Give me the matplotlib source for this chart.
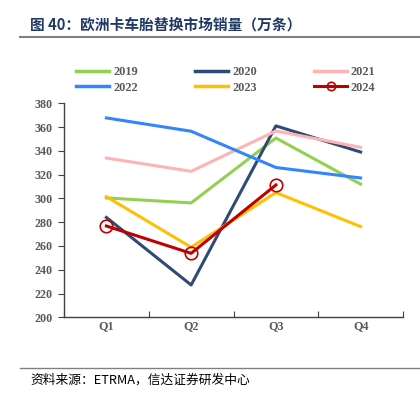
import matplotlib
matplotlib.use("Agg")
import matplotlib.pyplot as plt
from matplotlib.lines import Line2D

quarters = ["Q1", "Q2", "Q3", "Q4"]
v2019 = [300.4, 296.2, 350.8, 312.0]
v2020 = [284.0, 227.2, 361.0, 339.0]
v2021 = [334.0, 322.8, 356.7, 343.0]
v2022 = [367.7, 356.5, 326.0, 317.2]
v2023 = [301.5, 258.9, 304.9, 276.3]
v2024 = [276.8, 253.8, 311.3]
yticks = [200, 220, 240, 260, 280, 300, 320, 340, 360, 380]

title = "图 40：欧洲卡车胎替换市场销量（万条）"
source = "资料来源：ETRMA，信达证券研发中心"

W, H = 420, 397
fig = plt.figure(figsize=(W / 100, H / 100), dpi=100)
ax = fig.add_axes([64 / W, 1 - 317.3 / H, (403 - 64) / W, (317.3 - 103.3) / H])

tick_color = "#595959"
serif = ["Liberation Serif", "DejaVu Serif"]

series = [
    ("2019", v2019, "#92D050", None),
    ("2020", v2020, "#2F4A78", None),
    ("2021", v2021, "#FFB3B3", None),
    ("2022", v2022, "#3385FF", None),
    ("2023", v2023, "#FFC000", None),
    ("2024", v2024, "#C00000", "o"),
]
x = list(range(4))
handles = {}
for name, vals, col, mk in series:
    xs = x[:len(vals)]
    if mk:
        ax.plot(xs, vals, color=col, lw=2.2, marker="o", ms=9, mfc="none",
                mec=col, mew=1.2, zorder=5)
        h = Line2D([], [], color=col, lw=2.2, marker="o", ms=6, mfc="none", mec=col, mew=1.2)
    else:
        ax.plot(xs, vals, color=col, lw=2.2)
        h = Line2D([], [], color=col, lw=2.5)
    handles[name] = h

ax.set_xlim(-0.5, 3.5)
ax.set_ylim(200, 380)
ax.set_yticks(yticks)
ax.set_xticks([-0.5, 0.5, 1.5, 2.5, 3.5])
ax.set_xticklabels([])
ax.set_xticks(x, minor=True)
ax.set_xticklabels(quarters, minor=True)
ax.tick_params(axis="x", which="minor", length=0, pad=2)
ax.tick_params(axis="x", which="major", length=4, direction="in", color="#404040")
ax.tick_params(axis="y", length=4, direction="out", color="#404040", pad=4)
for lab in ax.get_yticklabels() + ax.get_xticklabels(minor=True):
    lab.set_fontfamily(serif)
    lab.set_fontweight("bold")
    lab.set_fontsize(8.7)
    lab.set_color(tick_color)
for s in ["top", "right"]:
    ax.spines[s].set_visible(False)
for s in ["left", "bottom"]:
    ax.spines[s].set_color("#404040")
    ax.spines[s].set_linewidth(1.0)

order = ["2019", "2022", "2020", "2023", "2021", "2024"]
fig.legend([handles[k] for k in order], order, ncol=3, loc="center",
           bbox_to_anchor=(226 / W, 1 - 80 / H), frameon=False,
           prop={"family": serif, "weight": "bold", "size": 8.8},
           handlelength=2.7, handletextpad=0.3, columnspacing=4.7,
           labelspacing=0.25, labelcolor=tick_color)

fig.text(30 / W, 1 - 25 / H, title, fontsize=10.6, fontweight="bold",
         color="#1F3864", family=["Noto Sans CJK SC", "DejaVu Sans"], va="center")
fig.add_artist(Line2D([20 / W, 1.0], [1 - 37 / H, 1 - 37 / H], color="#808080", lw=1.5))
fig.add_artist(Line2D([20 / W, 1.0], [1 - 368 / H, 1 - 368 / H], color="#808080", lw=1.0))
fig.text(30 / W, 1 - 380 / H, source, fontsize=9.2, style="italic", color="#000000",
         family=["Noto Sans CJK SC", "DejaVu Sans"], va="center")

fig.savefig("out.png", dpi=100)
